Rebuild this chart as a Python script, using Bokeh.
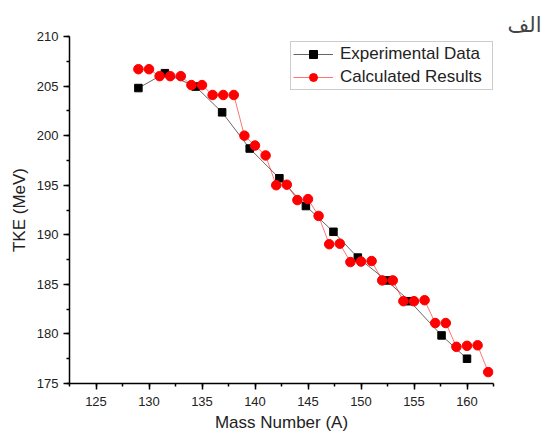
from bokeh.embed import file_html
from bokeh.models import Legend, Range1d, SingleIntervalTicker
from bokeh.plotting import figure
from bokeh.resources import INLINE

# experimental TKE values
exp_mass = [129.0, 131.5, 134.4, 136.9, 139.5, 142.3, 144.8, 147.4, 149.7, 152.4, 154.6, 157.6, 160.0]
exp_tke = [204.8, 206.3, 204.95, 202.35, 198.7, 195.7, 192.9, 190.3, 187.7, 185.4, 183.3, 179.85, 177.5]

# calculated results, one per mass number
calc_mass = [129, 130, 131, 132, 133, 134, 135, 136, 137, 138, 139, 140, 141, 142, 143, 144, 145,
             146, 147, 148, 149, 150, 151, 152, 153, 154, 155, 156, 157, 158, 159, 160, 161, 162]
calc_tke = [206.7, 206.7, 206.0, 206.0, 206.0, 205.1, 205.1, 204.1, 204.1, 204.1, 200.0, 199.0,
            198.0, 195.0, 195.05, 193.5, 193.6, 191.9, 189.05, 189.1, 187.25, 187.3, 187.35,
            185.4, 185.4, 183.3, 183.3, 183.4, 181.1, 181.1, 178.7, 178.8, 178.85, 176.15]

x_label = 'Mass Number (A)'
y_label = 'TKE (MeV)'
corner_note = 'الف'
FONT = 'Liberation Sans'


def make_plot():
    p = figure(
        width=546,
        height=434,
        min_border_left=69,
        min_border_right=53,
        min_border_top=36,
        min_border_bottom=51,
        x_range=Range1d(122.5, 162.5),
        y_range=Range1d(175, 210),
        output_backend='svg',
        toolbar_location=None,
    )
    p.outline_line_color = None
    p.grid.visible = False

    # the small note in the top right corner
    p.title.text = corner_note
    p.title.align = 'right'
    p.title.offset = -48
    p.title.text_font = 'DejaVu Sans'
    p.title.text_font_size = '21px'
    p.title.text_font_style = 'normal'
    if 'standoff' in p.title.properties():
        p.title.standoff = 0

    p.xaxis.ticker = SingleIntervalTicker(interval=5, num_minor_ticks=2)
    p.yaxis.ticker = SingleIntervalTicker(interval=5, num_minor_ticks=2)

    for ax in (p.xaxis, p.yaxis):
        ax.axis_line_width = 1.5
        ax.major_tick_line_width = 1.5
        ax.minor_tick_line_width = 1.5
        ax.major_tick_in = 0
        ax.major_tick_out = 6
        ax.minor_tick_in = 0
        ax.minor_tick_out = 3
        ax.major_label_text_font = FONT
        ax.major_label_text_font_size = '13px'
        ax.major_label_text_color = '#222222'
        ax.axis_label_text_font = FONT
        ax.axis_label_text_font_size = '17px'
        ax.axis_label_text_font_style = 'normal'
        ax.axis_label_text_color = '#222222'

    p.xaxis.axis_label = x_label
    p.yaxis.axis_label = y_label
    p.xaxis.major_label_standoff = 7
    p.xaxis.axis_label_standoff = 4
    p.yaxis.major_label_standoff = 5
    p.yaxis.axis_label_standoff = 5

    exp_line = p.line(exp_mass, exp_tke, line_color='black', line_alpha=0.6, line_width=1)
    exp_pts = p.scatter(exp_mass, exp_tke, marker='square', size=7.5, fill_color='black', line_color='black')

    calc_line = p.line(calc_mass, calc_tke, line_color='#ff0000', line_alpha=0.55, line_width=1)
    calc_pts = p.scatter(calc_mass, calc_tke, marker='circle', size=9.5, fill_color='#ff0000', line_color='#ff0000')

    legend = Legend(
        items=[('Experimental Data', [exp_line, exp_pts]), ('Calculated Results', [calc_line, calc_pts])],
        location=(221, 293),
        margin=0,
        padding=2,
        spacing=3,
        glyph_width=40,
        glyph_height=20,
        label_height=20,
        label_width=150,
        label_standoff=7,
        label_text_font=FONT,
        label_text_font_size='17px',
        label_text_color='#222222',
        border_line_color='#999999',
        border_line_width=1.5,
        background_fill_color='white',
        background_fill_alpha=1,
    )
    p.add_layout(legend)
    return p


def main():
    p = make_plot()
    open('out.html', 'w').write(file_html(p, INLINE))


if __name__ == '__main__':
    main()
